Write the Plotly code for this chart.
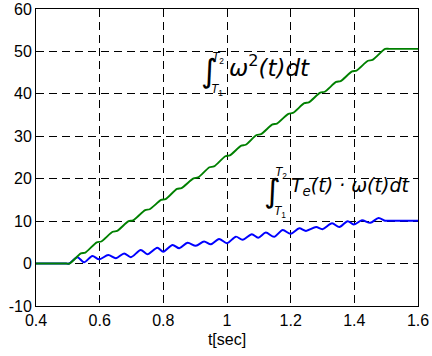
import plotly.graph_objects as go

# ---- data ----
green_t = [0.4, 0.495, 0.505, 0.541, 0.555, 0.591, 0.605, 0.641, 0.655, 0.691, 0.705,
           0.743, 0.757, 0.793, 0.807, 0.843, 0.857, 0.895, 0.909, 0.945, 0.959,
           0.995, 1.009, 1.045, 1.059, 1.093, 1.107, 1.143, 1.157, 1.193, 1.207,
           1.243, 1.257, 1.293, 1.307, 1.343, 1.357, 1.393, 1.407, 1.443, 1.457,
           1.497, 1.51, 1.6]
green_v = [0, 0, 0, 2.4, 2.6, 5.0, 5.2, 7.5, 7.7, 10.0, 10.2,
           12.6, 12.8, 15.0, 15.2, 17.6, 17.8, 20.1, 20.3, 22.7, 22.9,
           25.3, 25.5, 27.8, 28.0, 30.3, 30.5, 32.8, 33.0, 35.3, 35.5,
           37.8, 38.0, 40.3, 40.5, 42.8, 43.0, 45.3, 45.5, 47.8, 48.0,
           50.6, 50.6, 50.6]

blue_t = [0.4, 0.495, 0.504, 0.530, 0.551, 0.577, 0.598, 0.627, 0.651, 0.677, 0.698,
          0.729, 0.750, 0.781, 0.800, 0.829, 0.850, 0.876, 0.902, 0.928, 0.949,
          0.975, 1.000, 1.028, 1.049, 1.078, 1.098, 1.122, 1.148, 1.175, 1.200,
          1.227, 1.248, 1.280, 1.300, 1.330, 1.353, 1.379, 1.398, 1.424, 1.450,
          1.476, 1.497, 1.51, 1.6]
blue_v = [0, 0, 0, 1.5, 0.3, 1.8, 1.0, 2.0, 1.25, 2.4, 1.5,
          3.2, 2.2, 3.75, 2.8, 4.4, 3.6, 4.9, 4.2, 5.2, 4.55,
          5.8, 4.8, 6.35, 5.6, 6.9, 6.1, 7.3, 6.3, 7.9, 7.0,
          8.3, 7.7, 8.6, 8.1, 9.5, 8.6, 10.0, 9.2, 10.2, 9.6,
          10.75, 10.1, 10.1, 10.1]

x_ticks = [0.4, 0.6, 0.8, 1.0, 1.2, 1.4, 1.6]
x_tick_labels = ["0.4", "0.6", "0.8", "1", "1.2", "1.4", "1.6"]
y_ticks = [-10, 0, 10, 20, 30, 40, 50, 60]
y_tick_labels = ["-10", "0", "10", "20", "30", "40", "50", "60"]

fig = go.Figure()
fig.add_trace(go.Scatter(x=blue_t, y=blue_v, mode="lines",
                         line=dict(color="#0000ff", width=2, shape="spline", smoothing=0.8),
                         showlegend=False, hoverinfo="skip"))
fig.add_trace(go.Scatter(x=green_t, y=green_v, mode="lines",
                         line=dict(color="#008000", width=1.9, shape="spline", smoothing=0.8),
                         showlegend=False, hoverinfo="skip"))

AX = dict(showline=True, linecolor="black", linewidth=1, mirror=True,
          showgrid=True, gridcolor="black", gridwidth=1, griddash="8px,5px",
          zeroline=False, ticks="", automargin=False,
          tickfont=dict(family="Liberation Sans, Arial", size=16, color="black"))

fig.update_xaxes(range=[0.4, 1.6], tickvals=x_ticks, ticktext=x_tick_labels,
                 title=dict(text="t[sec]", font=dict(family="Liberation Sans, Arial", size=16, color="black"),
                            standoff=5), **AX)
fig.update_yaxes(range=[-10, 60], tickvals=y_ticks, ticktext=y_tick_labels, **AX)

MF = "DejaVu Sans"
TF = "Liberation Sans, Arial"
ann = []
def A(text, x, y, size, fam=MF):
    ann.append(dict(text=text, x=x, y=y, xref="paper", yref="paper", showarrow=False,
                    xanchor="center", yanchor="middle",
                    font=dict(family=fam, size=size, color="black")))

# first expression
A("∫", 0.453, 0.791, 32)
A("<i>T</i><sub>2</sub>", 0.476, 0.835, 12, TF)
A("<i>T</i><sub>1</sub>", 0.474, 0.728, 12, TF)
A("<i>ω</i><sup>2</sup><i>(t)dt</i>", 0.612, 0.808, 23)
# second expression
A("∫", 0.618, 0.387, 32)
A("<i>T</i><sub>2</sub>", 0.642, 0.447, 12, TF)
A("<i>T</i><sub>1</sub>", 0.639, 0.318, 12, TF)
A("<i>T<sub>e</sub>(t) · ω(t)dt</i>", 0.822, 0.404, 19)

fig.update_layout(width=432, height=356, margin=dict(l=36, r=14, t=9, b=50),
                  paper_bgcolor="white", plot_bgcolor="white", annotations=ann)

fig.write_html("out.html", config={"displayModeBar": False},
               post_script="document.body.style.margin='0';")
